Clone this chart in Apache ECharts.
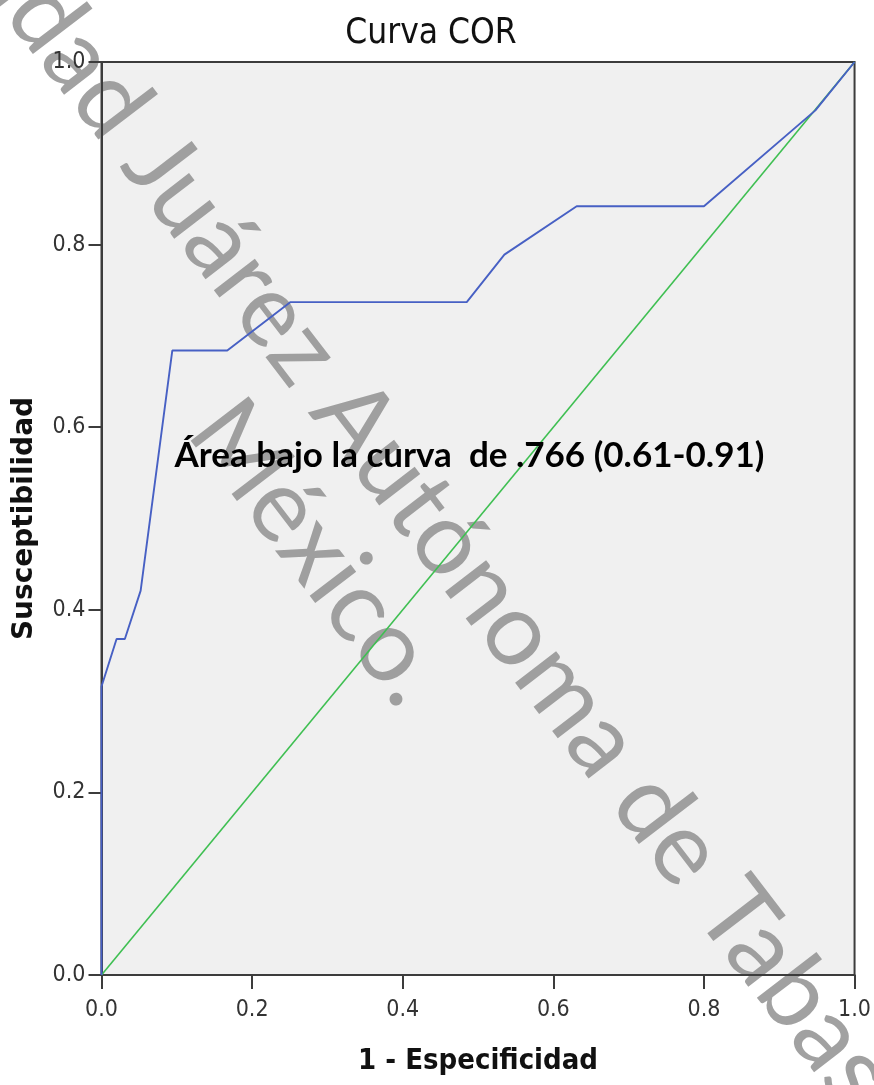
<!DOCTYPE html>
<html>
<head>
<meta charset="utf-8">
<script src="https://cdn.jsdelivr.net/npm/echarts@6/dist/echarts.min.js"></script>
<style>
  html, body { margin: 0; padding: 0; background: #ffffff; }
  #chart { width: 874px; height: 1085px; }
</style>
</head>
<body>
<div id="chart"></div>
<script>
// ROC curve: 1 - specificity (x) against sensitivity (y)
const fpr = [0, 0, 0.020, 0.031, 0.052, 0.094, 0.167, 0.251, 0.485, 0.535, 0.631, 0.800, 0.948, 1];
const tpr = [0, 0.316, 0.368, 0.368, 0.421, 0.684, 0.684, 0.737, 0.737, 0.789, 0.842, 0.842, 0.947, 1];
// chance (reference) line
const refX = [0, 1];
const refY = [0, 1];
const axisTicks = [0, 0.2, 0.4, 0.6, 0.8, 1.0];
const aucText = 'Área bajo la curva  de .766 (0.61-0.91)';
const aucPos = [0.097, 0.571];

const narrow = "'Liberation Sans Narrow', 'DejaVu Sans Condensed', 'Arial Narrow', sans-serif";

const chart = echarts.init(document.getElementById('chart'), null, { renderer: 'canvas' });

const rocData = fpr.map((x, i) => [x, tpr[i]]);
const refData = refX.map((x, i) => [x, refY[i]]);

chart.setOption({
  backgroundColor: '#ffffff',
  animation: false,
  title: {
    text: 'Curva COR',
    left: 426,
    top: 11,
    textAlign: 'center',
    textStyle: { fontFamily: narrow, fontSize: 35, fontWeight: 'normal', color: '#111' }
  },
  grid: {
    left: 101.5, right: 16, top: 62, bottom: 110,
    show: true,
    backgroundColor: '#f0f0f0',
    borderColor: '#3c3c3c',
    borderWidth: 2
  },
  xAxis: {
    type: 'value', min: 0, max: 1, interval: 0.2,
    name: '1 - Especificidad',
    nameLocation: 'middle',
    nameGap: 72,
    nameTextStyle: { fontFamily: narrow, fontSize: 29, fontWeight: 'bold', color: '#111' },
    axisLine: { show: true, onZero: false, lineStyle: { color: '#3c3c3c', width: 2 } },
    axisTick: { show: true, length: 14, lineStyle: { color: '#3c3c3c', width: 2 } },
    axisLabel: {
      margin: 24, fontFamily: narrow, fontSize: 23, color: '#333',
      formatter: v => v.toFixed(1)
    },
    splitLine: { show: false }
  },
  yAxis: {
    type: 'value', min: 0, max: 1, interval: 0.2,
    name: 'Susceptibilidad',
    nameLocation: 'middle',
    nameGap: 63,
    nameTextStyle: { fontFamily: "'DejaVu Sans', sans-serif", fontSize: 28, fontWeight: 'bold', color: '#111' },
    axisLine: { show: true, onZero: false, lineStyle: { color: '#3c3c3c', width: 2 } },
    axisTick: { show: true, length: 13, lineStyle: { color: '#3c3c3c', width: 2 } },
    axisLabel: {
      margin: 16, fontFamily: narrow, fontSize: 23, color: '#333',
      formatter: v => v.toFixed(1)
    },
    splitLine: { show: false }
  },
  series: [
    {
      name: 'Referencia',
      type: 'line',
      data: refData,
      symbol: 'none',
      lineStyle: { color: '#3fbf52', width: 1.6 },
      z: 2
    },
    {
      name: 'COR',
      type: 'line',
      data: rocData,
      symbol: 'none',
      lineStyle: { color: '#4760c4', width: 1.9 },
      z: 3,
      markPoint: {
        symbol: 'circle', symbolSize: 0,
        data: [{ coord: aucPos, value: aucText }],
        label: {
          show: true, position: 'right', offset: [-5, 2],
          formatter: aucText,
          fontFamily: "Lato, 'Open Sans', sans-serif",
          fontSize: 35, fontWeight: 'bold', color: '#000'
        }
      }
    }
  ],
  graphic: [
    {
      type: 'group',
      x: 378, y: 450,
      rotation: -52.5 * Math.PI / 180,
      z: 100,
      silent: true,
      children: [
        {
          type: 'text', x: 0, y: 0,
          style: {
            text: 'Universidad Juárez Autónoma de Tabasco.',
            font: "normal 102px Lato, 'Open Sans', sans-serif",
            fill: 'rgba(145,145,145,0.85)',
            textAlign: 'center', textVerticalAlign: 'middle'
          }
        },
        {
          type: 'text', x: 45, y: 110,
          style: {
            text: 'México.',
            font: "normal 102px Lato, 'Open Sans', sans-serif",
            fill: 'rgba(145,145,145,0.85)',
            textAlign: 'center', textVerticalAlign: 'middle'
          }
        }
      ]
    }
  ]
});
</script>
</body>
</html>
